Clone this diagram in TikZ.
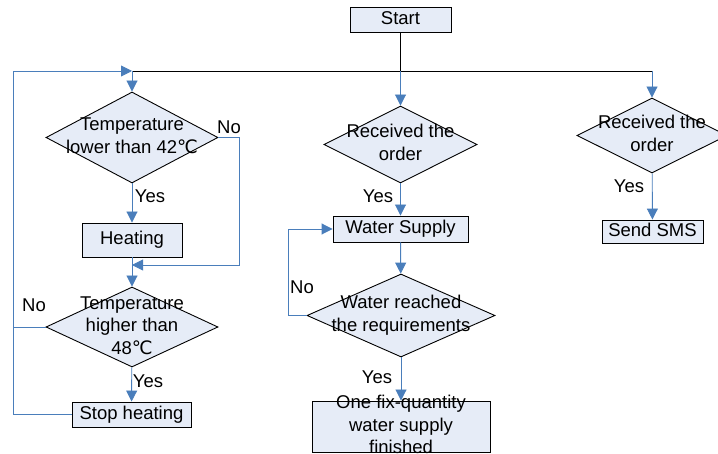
\documentclass[tikz,border=0pt]{standalone}
\usepackage{fontspec}
\setmainfont{Liberation Sans}
\newfontfamily\symfont{DejaVu Sans}
\usetikzlibrary{shapes.geometric,arrows.meta}
\definecolor{flowblue}{HTML}{4A7EBB}
\definecolor{boxfill}{HTML}{E6ECF7}
\newcommand{\celsius}{{\symfont ℃}}
\newcommand{\flowtext}[1]{\smash{\makebox[0pt]{\raisebox{-4.5pt}{\begin{tabular}{@{}c@{}}#1\end{tabular}}}}}
\begin{document}
\begin{tikzpicture}[x=1pt,y=-1pt,font=\fontsize{18.5}{22.5}\selectfont,inner sep=0pt,line width=0.9pt,
  process/.style={draw,fill=boxfill,rectangle,text height=13pt,text depth=3.5pt},
  decision/.style={draw,fill=boxfill,diamond},
  link/.style={draw=flowblue},
  flow/.style={draw=flowblue,-{Triangle[length=11pt,width=11pt]}}]
\useasboundingbox (0,0) rectangle (718,454);
% boxes
\node[process,minimum width=101pt,minimum height=25pt] (start) at (400.5,19.5) {Start};
\node[decision,minimum width=172pt,minimum height=91pt] (low) at (132,137.5) {\flowtext{Temperature\\lower than 42\celsius}};
\node[process,minimum width=100pt,minimum height=34pt] (heat) at (132,240) {Heating};
\node[decision,minimum width=172pt,minimum height=80pt] (high) at (132,327) {\flowtext{Temperature\\higher than\\48\celsius}};
\node[process,minimum width=119pt,minimum height=25pt] (stop) at (131.5,414.5) {Stop heating};
\node[decision,minimum width=153pt,minimum height=77pt] (recv1) at (400.5,144.5) {\flowtext{Received the\\order}};
\node[process,minimum width=135pt,minimum height=26pt] (water) at (400.5,229) {Water Supply};
\node[decision,minimum width=188pt,minimum height=83pt] (reach) at (401,315.5) {\flowtext{Water reached\\the requirements}};
\node[process,minimum width=178pt,minimum height=51pt,text height=0pt,text depth=0pt] (done) at (401,426.5) {\flowtext{One fix-quantity\\water supply\\finished}};
\node[decision,minimum width=150pt,minimum height=75pt] (recv2) at (652,135.5) {\flowtext{Received the\\order}};
\node[process,minimum width=101pt,minimum height=23pt] (sms) at (652.5,231.5) {Send SMS};
% labels
\node (no1) at (229,127) {No};
\node (yes1) at (150,196) {Yes};
\node (no2) at (34,305) {No};
\node (yes2) at (148,381) {Yes};
\node (yes3) at (378,196) {Yes};
\node (no4) at (302,287) {No};
\node (yes4) at (377,377) {Yes};
\node (yes5) at (629,186) {Yes};
% junctions
\coordinate (hub) at (400.5,71);
\coordinate (hubL) at (132,71);
\coordinate (hubR) at (652,71);
\coordinate (railL) at (13,71);
\coordinate (merge) at (132,265);
% connectors
\draw (start) -- (hub);
\draw (hubL) -- (hubR);
\draw[flow] (hub) -- (recv1);
\draw[flow] (hubR) -- (recv2);
\draw[flow] (hubL) -- (low);
\draw[flow] (low) -- (heat);
\draw[flow] (heat) -- (high);
\draw[flow] (low.east) -- ++(21,0) |- (merge);
\draw[flow] (high) -- (stop);
\draw[flow] (stop.west) -| (railL) -- (hubL);
\draw[link] (high.west) -- (high.west -| railL);
\draw[flow] (recv1) -- (water);
\draw[flow] (water) -- (reach);
\draw[flow] (reach.west) -- ++(-18,0) |- (water.west);
\draw[flow] (reach) -- (done);
\draw[flow] (recv2) -- (sms);
\end{tikzpicture}
\end{document}
